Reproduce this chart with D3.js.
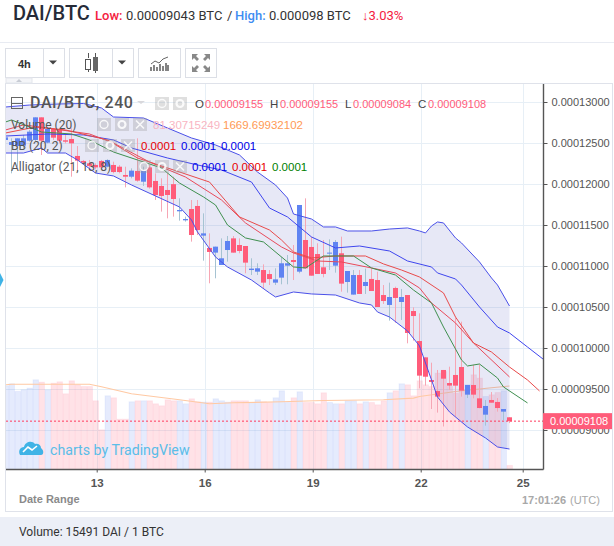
<!DOCTYPE html>
<html>
<head>
<meta charset="utf-8">
<title>DAI/BTC</title>
<script src="https://cdn.jsdelivr.net/npm/d3@7"></script>
<style>
html,body{margin:0;padding:0;background:#fff;overflow:hidden}
text{font-family:"Liberation Sans",Arial,sans-serif}
.rb text,text.rb{font-family:Roboto,sans-serif}
</style>
</head>
<body>
<svg id="chart" width="614" height="546"></svg>
<script>
// Prices are in satoshi (1e-8 BTC); one candle every four hours.
const opens = [12537,12476,12463,12468,12528,12537,12813,12504,12671,12659,12533,12549,12342,12281,12252,12232,12281,12211,12232,12211,12110,12089,12159,12028,12203,12037,11976,11927,11998,11667,11557,11695,11732,11370,11220,11163,11012,11195,11337,11256,11244,10951,10931,10951,10902,10797,10858,11004,11073,10931,11317,11232,11146,10984,11151,11004,11155,10805,10651,10890,10756,10842,10829,10646,10525,10732,10561,10646,10451,10085,9886,9610,9476,9732,9573,9671,9768,9431,9549,9386,9187,9366,9342,9224,9155];
const highs = [12585,12557,12557,12598,12659,12813,12813,12671,12679,12659,12618,12679,12463,12293,12293,12252,12293,12301,12272,12232,12211,12191,12557,12211,12232,12130,12069,12130,12089,11825,11602,11805,11805,11642,11398,11236,11337,11366,11366,11337,11244,11094,11033,11020,10951,10972,11114,11134,11256,11744,11825,11358,11277,11317,11325,11317,11358,10939,10951,10951,10968,10968,10931,10768,10797,10748,10720,10646,10496,10423,9886,9821,9732,9732,9772,10366,10321,9549,9793,9801,9366,9463,9390,9256,9155];
const lows = [12516,12130,12211,12435,12516,12516,12354,12496,12537,12496,12496,12089,12150,12232,12171,12179,12179,12203,12130,12130,11959,12069,12028,11976,11943,11805,11663,11581,11602,11553,11541,11297,11378,11065,10789,10850,11012,11053,11163,11155,10911,10890,10890,10728,10768,10768,10777,10777,10829,10911,10972,10882,10903,10862,10951,10919,10687,10675,10651,10659,10659,10695,10500,10537,10334,10309,10342,10057,10090,9508,9541,9256,9212,9043,9488,9163,9407,9390,9386,9264,9053,9333,9224,9122,9084];
const closes = [12569,12512,12557,12557,12638,12813,12528,12671,12565,12528,12516,12496,12285,12260,12220,12203,12203,12293,12146,12146,12089,12163,12041,12159,11959,11866,11854,11866,11817,11683,11573,11378,11439,11398,11171,11236,11094,11305,11163,11183,11041,10968,10972,10797,10841,10837,11033,11033,11049,11744,10972,10882,10903,10903,11163,11293,10785,10939,10890,10659,10805,10695,10500,10573,10622,10610,10622,10183,10390,9663,9650,9586,9407,9626,9541,9541,9480,9549,9431,9268,9293,9333,9268,9256,9108];
const volumes = [1674,1714,1561,1594,1627,1794,1747,1594,1727,1754,1514,1774,1694,1660,1660,1374,794,1474,1434,1007,1007,1354,1374,1374,1374,1314,1274,1394,1374,1374,1314,1414,1354,1347,1347,1414,1374,1347,1374,1374,1374,1340,1394,1354,1340,1434,1574,1340,1434,1554,1340,1340,1314,1534,1340,1314,1314,1374,1374,1314,1354,1340,1294,1374,1534,1574,1714,1694,1474,1774,1694,1660,1927,1960,1660,1527,1594,1694,1894,1827,1460,1494,1540,1574,81.31];

// Indicator curves, each sampled at its own candle indices.
const volMaAt = [0,1,14,16,21,29,34,38,46,53,63,68,69,75,81,84];
const volMa = [1694,1704,1704,1654,1514,1394,1314,1334,1354,1380,1394,1428,1460,1560,1634,1669.7];
const upperAt = [0,4,9,13,16,18,23,27,31,35,39,42,45,47,48,51,53,55,57,61,64,67,69,70,71,72,73,75,76,79,81,82,84];
const upperBand = [12939,12963,12976,12982,12927,12817,12805,12683,12561,12476,12354,12146,11988,11829,11634,11573,11476,11476,11427,11427,11451,11464,11427,11403,11488,11537,11525,11342,11281,11049,10854,10768,10512];
const lowerAt = [0,3,6,7,10,12,15,18,21,25,29,31,32,35,37,41,44,45,48,51,55,59,61,62,64,67,69,71,72,74,77,80,82,84];
const lowerBand = [12378,12378,12439,12378,12378,12293,12134,12098,11988,11854,11720,11561,11415,11110,10988,10829,10671,10622,10683,10659,10646,10549,10525,10439,10378,10208,10025,9610,9403,9220,9037,8903,8793,8768];
const medianAt = [0,3,7,14,18,24,30,36,40,46,48,52,56,61,65,69,71,75,78,84];
const medianBand = [12659,12720,12683,12610,12500,12268,12085,11805,11525,11232,11159,11061,11049,10976,10915,10732,10549,10305,10061,9647];
const jawAt = [0,7,13,18,21,27,32,36,41,44,47,51,55,59,64,67,71,72,75,76,79,82,84,87,90];
const jaw = [12585,12610,12598,12537,12439,12317,12232,12171,12024,11707,11598,11354,11220,11244,11183,11061,10988,10915,10842,10768,10500,10256,10183,10012,9842];
const teethAt = [0,5,10,17,22,28,34,39,44,46,48,51,55,60,63,66,69,73,75,78,81,84,87,89];
const teeth = [12622,12695,12659,12537,12317,12171,12024,11598,11439,11317,11171,11098,11122,11122,11025,10951,10866,10671,10378,10061,9951,9768,9610,9476];
const lipsAt = [0,1,4,6,11,14,18,22,26,29,33,35,37,40,43,46,48,50,53,58,61,65,68,71,73,76,77,79,82,83,87];
const lips = [12756,12781,12695,12634,12610,12537,12390,12293,12195,12012,11842,11744,11500,11342,11293,11110,10988,10976,11122,11122,10976,10890,10707,10549,10256,9854,9781,9805,9634,9525,9330];

const priceTicks = [9000,9500,10000,10500,11000,11500,12000,12500,13000];
const dayTickAt = [15.2,33.2,51.2,69.2,86.2];
const dayLabels = ["13","16","19","22","25"];
const lastPrice = 9108;

const RED = "#ff5c7a", BLUE = "#5f83f2";
const svg = d3.select("#chart");
const x = d3.scaleLinear().domain([0, 100]).range([5.5, 605.5]);
const y = d3.scaleLinear().domain([9000, 13000]).range([430, 102]);
const v = d3.scaleLinear().domain([0, 4000]).range([469.5, 269.5]);
const L = 6, R = 543.5, T = 84, B = 469.5;
const fmt = p => (p / 1e8).toFixed(8);

svg.append("defs").append("clipPath").attr("id", "plot")
  .append("rect").attr("x", L).attr("y", T).attr("width", R - L).attr("height", B - T);

/* page header */
function label(parent, px, py, str, size, color, weight, cls) {
  return parent.append("text").attr("x", px).attr("y", py).text(str)
    .attr("font-size", size).attr("fill", color)
    .attr("font-weight", weight || 400).attr("class", cls || null);
}
label(svg, 13, 20, "DAI/BTC", 20, "#262b38", 500, "rb");
label(svg, 95, 20, "Low:", 13, "#f4213f", 500, "rb");
label(svg, 126, 20, "0.00009043 BTC", 13, "#333", 400, "rb");
label(svg, 227, 20, "/", 13, "#333", 400, "rb");
label(svg, 235, 20, "High:", 13, "#3f8df2", 500, "rb");
label(svg, 269, 20, "0.000098 BTC", 13, "#333", 400, "rb");
label(svg, 362, 20, "↓3.03%", 13, "#f4213f", 400, "rb");
svg.append("line").attr("x1", 0).attr("x2", 614).attr("y1", 42.5).attr("y2", 42.5).attr("stroke", "#e8ebf2");

/* toolbar */
const toolbar = svg.append("g").attr("fill", "none").attr("stroke", "#dcdfe6");
[[5.5, 59], [69.5, 64], [138.5, 42], [185.5, 31]].forEach(b =>
  toolbar.append("rect").attr("x", b[0]).attr("y", 48.5).attr("width", b[1]).attr("height", 29));
[43.5, 112.5].forEach(d => toolbar.append("line").attr("x1", d).attr("x2", d).attr("y1", 48.5).attr("y2", 77.5));
label(svg, 18, 68, "4h", 11, "#333", 700);
[53, 122].forEach(c => svg.append("path").attr("d", `M${c - 4} 60.5h8l-4 4z`).attr("fill", "#444"));
svg.append("path").attr("d", "M88.5 53v5M88.5 70v2M95.5 53v4M95.5 71v2").attr("stroke", "#555").attr("fill", "none");
svg.append("rect").attr("x", 85.5).attr("y", 59.5).attr("width", 5).attr("height", 10).attr("fill", "#fff").attr("stroke", "#555");
svg.append("rect").attr("x", 93).attr("y", 57).attr("width", 5).attr("height", 14).attr("fill", "#666");
svg.append("path").attr("d", "M151 71v-4M154 71v-6M157 71v-4M160 71v-7M163 71v-5M166 71v-8M168 71v-6")
  .attr("stroke", "#666").attr("stroke-width", 1.6);
svg.append("path").attr("d", "M151 64l4-3 4 2 4-4 5-2").attr("stroke", "#666").attr("fill", "none");
svg.append("path").attr("d", "M192 54h6l-2 2 3 3-2 2-3-3-2 2zM210 54h-6l2 2-3 3 2 2 3-3 2 2zM192 72h6l-2-2 3-3-2-2-3 3-2-2zM210 72h-6l2-2-3-3 2-2 3 3 2-2z").attr("fill", "#888");

/* chart frame and footer */
svg.append("rect").attr("x", 5.5).attr("y", 83.5).attr("width", 607).attr("height", 428)
  .attr("fill", "#fff").attr("stroke", "#dfe2ea");
svg.append("rect").attr("x", 6).attr("y", 78).attr("width", 26).attr("height", 5).attr("fill", "#f4f5f8").attr("stroke", "#e3e6ec");
svg.append("path").attr("d", "M16 82l3-3 3 3z").attr("fill", "#c8ccd4");
svg.append("rect").attr("x", 0).attr("y", 517).attr("width", 614).attr("height", 29).attr("fill", "#eceff7");
label(svg, 19, 536, "Volume: 15491 DAI / 1 BTC", 12, "#333", 400, "rb");
svg.append("path").attr("d", "M0 273l3.5 7-3.5 7z").attr("fill", "#3fb3e6");

/* grid */
const grid = svg.append("g").attr("stroke", "#e7eff6");
priceTicks.forEach(p => grid.append("line").attr("x1", L).attr("x2", R).attr("y1", Math.round(y(p)) + .5).attr("y2", Math.round(y(p)) + .5));
dayTickAt.forEach(d => grid.append("line").attr("y1", T).attr("y2", B).attr("x1", Math.round(x(d)) + .5).attr("x2", Math.round(x(d)) + .5));

const plot = svg.append("g").attr("clip-path", "url(#plot)");
const up = i => closes[i] >= opens[i];

/* volume pane */
plot.append("g").selectAll("rect").data(volumes).join("rect")
  .attr("x", (d, i) => x(i) - 2.5).attr("width", 5.5)
  .attr("y", d => v(d)).attr("height", d => v(0) - v(d))
  .attr("fill", (d, i) => up(i) ? "#5f83f2" : "#ff5c7a").attr("fill-opacity", (d, i) => up(i) ? .16 : .18)
  .attr("stroke", (d, i) => up(i) ? "#5f83f2" : "#ff5c7a").attr("stroke-opacity", .08);

const curve = (at, vals, sc) => d3.line().x(d => x(d[0])).y(d => sc(d[1]))(at.map((a, k) => [a, vals[k]]));

plot.append("path").attr("d", curve(volMaAt, volMa, v)).attr("fill", "none").attr("stroke", "#ffc9a3").attr("stroke-width", 1.1);

/* Bollinger fill */
const ring = upperAt.map((a, k) => [a, upperBand[k]])
  .concat(lowerAt.map((a, k) => [a, lowerBand[k]]).reverse());
plot.append("path").attr("d", d3.line().x(d => x(d[0])).y(d => y(d[1]))(ring) + "Z")
  .attr("fill", "#3a3fb8").attr("fill-opacity", .12);

/* candles */
const wicks = plot.append("g"), bodies = plot.append("g");
wicks.selectAll("line").data(volumes).join("line")
  .attr("x1", (d, i) => x(i)).attr("x2", (d, i) => x(i))
  .attr("y1", (d, i) => y(highs[i])).attr("y2", (d, i) => y(lows[i]))
  .attr("stroke", (d, i) => up(i) ? "#a6c3d2" : "#f6a6b4");
bodies.selectAll("rect").data(volumes).join("rect")
  .attr("x", (d, i) => x(i) - 2.5).attr("width", 5)
  .attr("y", (d, i) => y(Math.max(opens[i], closes[i])))
  .attr("height", (d, i) => Math.max(1, Math.abs(y(opens[i]) - y(closes[i]))))
  .attr("fill", (d, i) => up(i) ? BLUE : RED);

/* overlays */
[[upperAt, upperBand, "#4a50e8"], [lowerAt, lowerBand, "#4a50e8"], [jawAt, jaw, "#3f46ee"],
 [medianAt, medianBand, "#e84a5a"], [teethAt, teeth, "#e84a4a"], [lipsAt, lips, "#3f8f4f"]].forEach(s =>
  plot.append("path").attr("d", curve(s[0], s[1], y)).attr("fill", "none").attr("stroke", s[2]).attr("stroke-width", 1));

/* last price line */
plot.append("line").attr("x1", L).attr("x2", R).attr("y1", y(lastPrice)).attr("y2", y(lastPrice))
  .attr("stroke", "#ff3a5c").attr("stroke-dasharray", "2 2");

/* axes */
const yAxis = d3.axisRight(y).tickValues(priceTicks).tickFormat(fmt).tickSize(4).tickPadding(4);
const gy = svg.append("g").attr("transform", `translate(${R},0)`).call(yAxis);
gy.select(".domain").attr("d", `M0 ${T}V${B}`).attr("stroke", "#555").attr("stroke-width", 1.4);
gy.selectAll(".tick line").attr("stroke", "#555");
gy.selectAll("text").attr("font-size", 11).attr("fill", "#555").attr("font-family", "'Liberation Sans',Arial,sans-serif");
const xAxis = d3.axisBottom(x).tickValues(dayTickAt).tickFormat((d, i) => dayLabels[i]).tickSize(3).tickPadding(6);
const gx = svg.append("g").attr("transform", `translate(0,${B})`).call(xAxis);
gx.select(".domain").attr("d", `M${L} 0H${R}`).attr("stroke", "#555").attr("stroke-width", 1.4);
gx.selectAll(".tick line").attr("stroke", "#555");
gx.selectAll("text").attr("font-size", 11.5).attr("font-weight", 700).attr("fill", "#555").attr("font-family", "'Liberation Sans',Arial,sans-serif");

/* last price tag */
svg.append("rect").attr("x", 543).attr("y", y(lastPrice) - 8).attr("width", 69).attr("height", 16).attr("fill", RED);
label(svg, 550, y(lastPrice) + 4, fmt(lastPrice), 11, "#fff");

/* time footer */
label(svg, 19, 503, "Date Range", 11, "#8a8a8a", 700);
label(svg, 522, 504, "17:01:26", 11, "#a8a8a8", 700);
label(svg, 570, 504, "(UTC)", 11, "#a8a8a8");

/* watermark */
svg.append("path").attr("d", "M20 455c-2-4 0-8 4-8 1-5 8-7 11-3 3-1 6 1 6 4 3 2 3 7 0 7z").attr("fill", "#3fb3e6");
svg.append("path").attr("d", "M23 452l5-5 4 3 5-4").attr("fill", "none").attr("stroke", "#fff").attr("stroke-width", 1.6);
label(svg, 50, 455, "charts by TradingView", 14.2, "#5bbde8", 400, "rb");

/* pane legends */
function buttons(px, py, n) {
  for (let k = 0; k < n; k++) {
    const cx = px + k * 18 + 7, cy = py + 6.5;
    svg.append("rect").attr("x", px + k * 18).attr("y", py).attr("width", 14).attr("height", 13)
      .attr("fill", "#9a9a9a").attr("fill-opacity", .32);
    if (k < 2) svg.append("circle").attr("cx", cx).attr("cy", cy).attr("r", k ? 3.5 : 4)
      .attr("fill", "none").attr("stroke", "#fff").attr("stroke-width", k ? 2.2 : 1.4).attr("stroke-opacity", .85);
    else svg.append("path").attr("d", `M${cx - 4} ${cy - 4}l8 8M${cx + 4} ${cy - 4}l-8 8`)
      .attr("stroke", "#fff").attr("stroke-width", 1.6).attr("stroke-opacity", .85);
  }
}
svg.append("rect").attr("x", 11.5).attr("y", 97.5).attr("width", 11).attr("height", 11).attr("fill", "none").attr("stroke", "#666");
svg.append("line").attr("x1", 11.5).attr("x2", 22.5).attr("y1", 103.5).attr("y2", 103.5).attr("stroke", "#666");
label(svg, 30, 108, "DAI/BTC, 240", 16, "#555", 500, "rb").attr("letter-spacing", .6);
svg.append("path").attr("d", "M137 101h8l-4 3z").attr("fill", "#d8d8dc");
buttons(155, 97, 2);
label(svg, 195, 108, "O", 11.5, "#444");
label(svg, 205, 108, "0.00009155", 11, RED);
label(svg, 270, 108, "H", 11.5, "#444");
label(svg, 280, 108, "0.00009155", 11, RED);
label(svg, 345, 108, "L", 11.5, "#444");
label(svg, 353, 108, "0.00009084", 11, RED);
label(svg, 418, 108, "C", 11.5, "#444");
label(svg, 428, 108, "0.00009108", 11, RED);

label(svg, 11, 129, "Volume (20)", 12, "#555", 400, "rb");
buttons(97, 118, 3);
label(svg, 153, 129, "81.30715249", 11.5, "#f9b5c2");
label(svg, 223, 129, "1669.69932102", 11.5, "#ff9a55");

label(svg, 11, 150, "BB (20, 2)", 12, "#555", 400, "rb");
buttons(85, 139, 3);
label(svg, 141, 150, "0.0001", 11.5, "#e80000");
label(svg, 181, 150, "0.0001", 11.5, "#0000e8");
label(svg, 221, 150, "0.0001", 11.5, "#0000e8");

label(svg, 11, 171, "Alligator (21, 13, 8)", 12, "#555", 400, "rb");
buttons(137, 160, 3);
label(svg, 192, 171, "0.0001", 11.5, "#0000e8");
label(svg, 232, 171, "0.0001", 11.5, "#e80000");
label(svg, 272, 171, "0.0001", 11.5, "#008000");
</script>
</body>
</html>
